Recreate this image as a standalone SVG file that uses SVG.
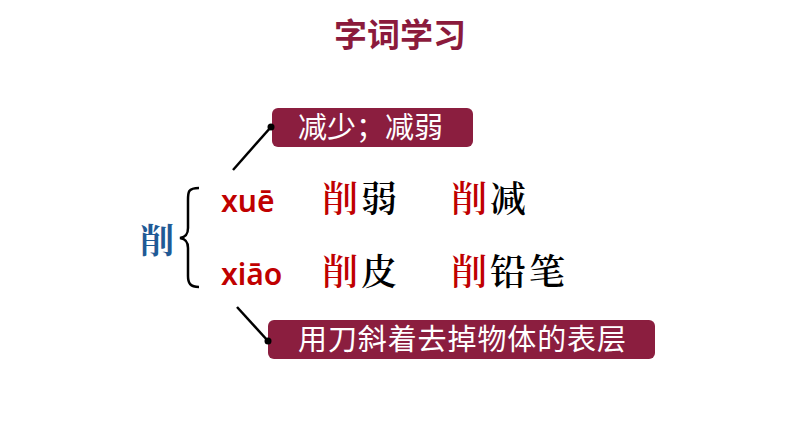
<svg xmlns="http://www.w3.org/2000/svg" width="794" height="447" viewBox="0 0 794 447">
<style>
.title{font-family:"Noto Sans CJK SC",sans-serif;font-size:33px;font-weight:bold;fill:#8B1A3C}
.box{fill:#8B1E3F}
.boxt{font-family:"Noto Sans CJK SC",sans-serif;font-size:29px;fill:#fff}
.py{font-family:"Noto Sans","Liberation Sans",sans-serif;font-size:30px;font-weight:600;fill:#C00000}
.cn{font-family:"Noto Serif CJK SC","Noto Sans CJK SC",serif;font-size:36px;font-weight:600;fill:#000;letter-spacing:3px}
.red{fill:#C00000}
.blue{font-family:"Noto Serif CJK SC","Noto Sans CJK SC",serif;font-size:34px;font-weight:bold;fill:#1F5A96}
.ln{stroke:#000;stroke-width:2.5;fill:none}
</style>
<rect width="794" height="447" fill="#fff"/>
<g id="title"><text class="title" x="400" y="47" text-anchor="middle">字词学习</text></g>
<g id="root"><text class="blue" x="140" y="253">削</text></g>
<g id="brace"><path class="ln" d="M199,188 C188,188 188,192 188,200 L188,228 C188,234 186,237 180,238 C186,239 188,242 188,248 L188,276 C188,283 190,287 199,287"/></g>
<g id="xue"><text class="py" x="221" y="212">xuē</text></g>
<g id="xiao"><text class="py" x="221" y="285">xiāo</text></g>
<g id="w1"><text class="cn" x="322" y="212"><tspan class="red">削</tspan>弱</text></g>
<g id="w2"><text class="cn" x="451" y="212"><tspan class="red">削</tspan>减</text></g>
<g id="w3"><text class="cn" x="322" y="285"><tspan class="red">削</tspan>皮</text></g>
<g id="w4"><text class="cn" x="451" y="285"><tspan class="red">削</tspan>铅笔</text></g>
<g id="def1"><rect class="box" x="272" y="108" width="201" height="39" rx="6"/><text class="boxt" x="298" y="138">减少；减弱</text></g>
<g id="def2"><rect class="box" x="268" y="320" width="387" height="39" rx="6"/><text class="boxt" x="298" y="350" textLength="328">用刀斜着去掉物体的表层</text></g>
<g id="connectors">
<line class="ln" x1="233" y1="170" x2="271" y2="127"/><circle cx="271" cy="127" r="3.5"/>
<line class="ln" x1="237" y1="307" x2="268" y2="341"/><circle cx="268" cy="341" r="3.5"/>
</g>
</svg>
